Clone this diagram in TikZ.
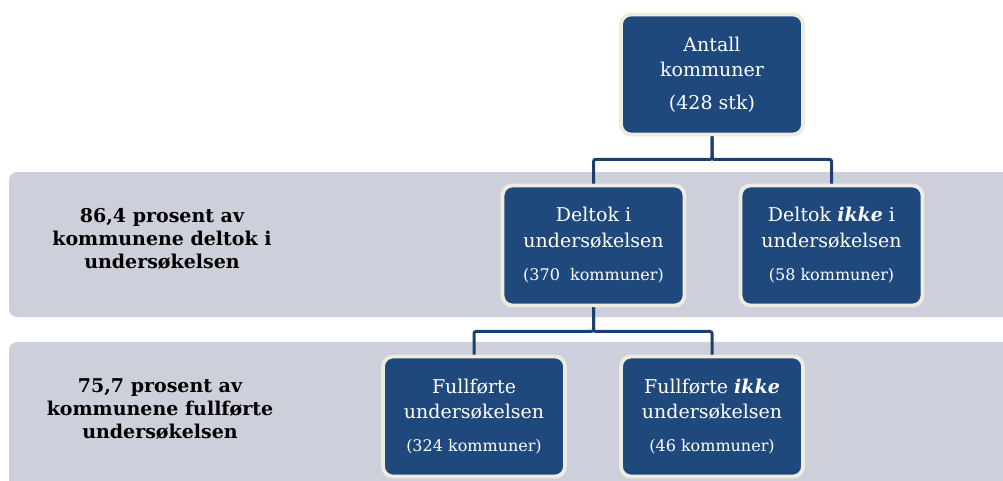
\documentclass[tikz,border=0pt]{standalone}
\usepackage{fontspec}
\setmainfont{DejaVu Serif}
\definecolor{boxblue}{HTML}{1F497D}
\definecolor{boxborder}{HTML}{EEEBDF}
\definecolor{bandgray}{HTML}{CDD0DA}
\definecolor{connblue}{HTML}{1C3F6E}
\begin{document}
\begin{tikzpicture}[x=1pt,y=-1pt,
  box/.style={draw=boxborder, line width=3.8pt, fill=boxblue, rounded corners=10pt,
    minimum width=182pt, minimum height=120pt, text=white, align=center, inner sep=0pt,
    font=\fontsize{19}{26}\selectfont},
  band/.style={fill=bandgray, rounded corners=8pt},
  conn/.style={draw=connblue, line width=3pt, rounded corners=2pt},
  lbl/.style={align=center, font=\fontsize{19}{23}\selectfont\bfseries, text=black}]
\useasboundingbox (0,0) rectangle (1003,480);
\clip (0,0) rectangle (1003,480);
% bands
\fill[band] (9,172) rectangle (1030,317);
\fill[band] (9,342) rectangle (1030,510);
% left labels
\node[lbl] (l1) at (162,239) {86,4 prosent av\\kommunene deltok i\\undersøkelsen};
\node[lbl] (l2) at (160,409) {75,7 prosent av\\kommunene fullførte\\undersøkelsen};
% boxes
\node[box] (top) at (712,74.5) {Antall\\[-1pt]kommuner\\[7pt](428 stk)};
\node[box] (d1) at (593.5,245.5) {Deltok i\\undersøkelsen\\[7pt]\fontsize{16}{20}\selectfont(370~~kommuner)};
\node[box] (d2) at (831.5,245.5) {Deltok \textbf{\textit{ikke}} i\\undersøkelsen\\[7pt]\fontsize{16}{20}\selectfont(58 kommuner)};
\node[box] (f1) at (474,416.5) {Fullførte\\[-1pt]undersøkelsen\\[7pt]\fontsize{16}{20}\selectfont(324 kommuner)};
\node[box] (f2) at (712,416.5) {Fullførte \textbf{\textit{ikke}}\\[-1pt]undersøkelsen\\[7pt]\fontsize{16}{20}\selectfont(46 kommuner)};
% connectors
\draw[conn] (top.south) -- ++(0,23) -| (d1.north);
\draw[conn] (top.south) -- ++(0,23) -| (d2.north);
\draw[conn] (d1.south) -- ++(0,24) -| (f1.north);
\draw[conn] (d1.south) -- ++(0,24) -| (f2.north);
\end{tikzpicture}
\end{document}
